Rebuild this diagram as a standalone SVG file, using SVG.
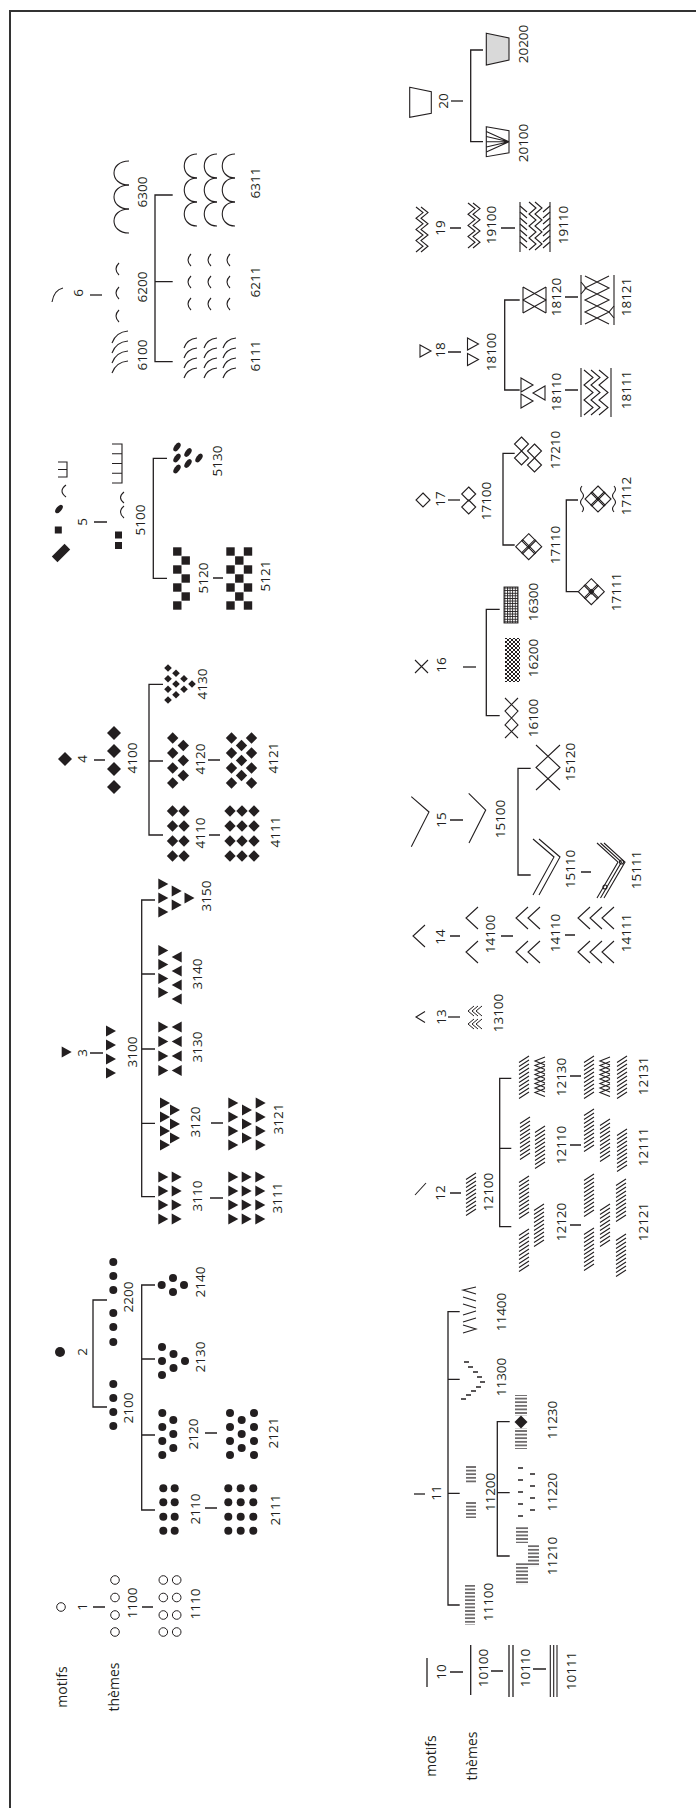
<svg xmlns="http://www.w3.org/2000/svg" width="696" height="1808" viewBox="0 0 696 1808">
<style>
.t{font-family:"Open Sans","Liberation Sans",sans-serif;font-size:13.5px;fill:#231f20;text-anchor:middle}
.w{font-size:14px}
.ln{stroke:#231f20;stroke-width:1.3;fill:none}
.th{stroke:#231f20;stroke-width:1.1;fill:none}
.f{fill:#231f20}
</style>
<defs>
<circle id="dt" r="4" fill="#231f20"/>
<circle id="oc" r="4.3" fill="none" stroke="#231f20" stroke-width="1"/>
<path id="tr" d="M-5,-5.5L5,0L-5,5.5Z" fill="#231f20"/>
<path id="tl" d="M5,-5.5L-5,0L5,5.5Z" fill="#231f20"/>
<path id="dmL" d="M0,-7L7,0L0,7L-7,0Z" fill="#231f20"/>
<path id="dm" d="M0,-5.7L5.7,0L0,5.7L-5.7,0Z" fill="#231f20"/>
<path id="dmS" d="M0,-3.8L3.8,0L0,3.8L-3.8,0Z" fill="#231f20"/>
<rect id="sq" x="-4.2" y="-4.2" width="8.4" height="8.4" fill="#231f20"/>
<path id="od" d="M0,-7L7,0L0,7L-7,0Z" fill="none" stroke="#231f20" stroke-width="1.1"/>
<g id="qf"><use href="#od" x="0" y="-6"/><use href="#od" x="-6" y="0"/><use href="#od" x="6" y="0"/><use href="#od" x="0" y="6"/></g>
<path id="ot" d="M-5.5,-6L5.5,0L-5.5,6Z" fill="none" stroke="#231f20" stroke-width="1.1"/>
<path id="hb" d="M0,6.5L10,0M0,10.5L10,4M0,14.5L10,8M0,18.5L10,12M0,22.5L10,16M0,26.5L10,20M0,30.5L10,24M0,34.5L10,28M0,38.5L10,32M0,42.5L10,36" stroke="#231f20" stroke-width="1.1" fill="none"/>
<path id="hh" d="M10,0L0,4L10,8M10,4.5L0,8.5L10,12.5M10,9L0,13L10,17M10,13.5L0,17.5L10,21.5M10,18L0,22L10,26M10,22.5L0,26.5L10,30.5M10,27L0,31L10,35M10,31.5L0,35.5L10,39.5" stroke="#231f20" stroke-width="1.1" fill="none"/>
<path id="cv" d="M12,-11L0,0L12,11" stroke="#231f20" stroke-width="1.1" fill="none"/>
<path id="cvs" d="M6,-5L0,0L6,5" stroke="#231f20" stroke-width="1" fill="none"/>
<path id="ar" d="M16,0Q4,1 0,12" stroke="#231f20" stroke-width="1.1" fill="none"/>
<path id="ar2" d="M13,0Q3,1 0,10" stroke="#231f20" stroke-width="1.1" fill="none"/>
<path id="ap" d="M6,0Q0,6 6,12" stroke="#231f20" stroke-width="1.1" fill="none"/>
<path id="ach" d="M16,0C-4,0 -4,24 16,24" stroke="#231f20" stroke-width="1.1" fill="none"/>
<path id="ach2" d="M14,0C-3,0 -3,24 14,24" stroke="#231f20" stroke-width="1.1" fill="none"/>
<pattern id="hs" patternUnits="userSpaceOnUse" width="20" height="3.6"><path d="M0,1.8H20" stroke="#231f20" stroke-width="1.2"/></pattern>
<pattern id="xh" patternUnits="userSpaceOnUse" width="4" height="4"><path d="M0,0L4,4M4,0L0,4" stroke="#231f20" stroke-width="1"/></pattern>
<pattern id="gr" patternUnits="userSpaceOnUse" width="2.6" height="2.6"><path d="M0,0.5H2.6M0.5,0V2.6" stroke="#231f20" stroke-width="0.9"/></pattern>
</defs>
<rect width="696" height="1808" fill="#fff"/>
<path d="M10,1808V11H696" stroke="#333" stroke-width="2" fill="none"/>

<g id="connectors" class="ln">
<path d="M93,1607H105M142,1607H153"/>
<path d="M205,1508H217M205,1433H217"/>
<path d="M107,1300H93V1407H107"/>
<path d="M155,1285H141.7V1510H155M141.7,1359H155M141.7,1435H155"/>
<path d="M90,1053H103M210,1198H223M211,1123H223"/>
<path d="M155,900H141.7V1196.7H155M141.7,974H155M141.7,1049H155M141.7,1123.3H155"/>
<path d="M94,760H105M209,835H220M208,760H220"/>
<path d="M163,684.3H149V835H163M149,761H163"/>
<path d="M94,522H107M213,578H223"/>
<path d="M167,458.3H153.3V578.3H167"/>
<path d="M90,295H102"/>
<path d="M172.7,195H155V361.7H172.7M155,281.7H172.7"/>
<path d="M450,1672H463M491,1671H503M533,1669H546"/>
<path d="M459.7,1311.7H448V1605H459.7M448,1379.3H459.7M448,1493.3H459.7"/>
<path d="M509.7,1421.7H497.3V1556H509.7M497.3,1492.7H509.7"/>
<path d="M450,1193H461M570,1225H581M570,1145H581M570,1076H581"/>
<path d="M511.3,1078.3H499.7V1226.7H511.3M499.7,1148.3H511.3"/>
<path d="M448,1017H460"/>
<path d="M450,936H460M501,936H513M565,935H575"/>
<path d="M450,820H463M581,872H591"/>
<path d="M530.7,768.3H518V875H530.7"/>
<path d="M463,667H476"/>
<path d="M499.7,609.3H486.3V715.7H499.7"/>
<path d="M448,500H460"/>
<path d="M514.7,453.3H503V545H514.7"/>
<path d="M578,500H566.3V591.7H578"/>
<path d="M448,352H461M565,390H578M565,297H578"/>
<path d="M519.7,300H504.7V390H519.7"/>
<path d="M450,228H461M501,228H515"/>
<path d="M451,101H463"/>
<path d="M483,50H470.7V141.7H483"/>
</g>

<g id="rowlabels">
<text class="t w" transform="translate(66.7,1687) rotate(-90)">motifs</text>
<text class="t w" transform="translate(119.3,1687) rotate(-90)">thèmes</text>
<text class="t w" transform="translate(436.3,1756) rotate(-90)">motifs</text>
<text class="t w" transform="translate(477,1756) rotate(-90)">thèmes</text>
</g>

<g id="n1"><use href="#oc" x="61" y="1607"/><text class="t" transform="translate(87,1607) rotate(-90)">1</text></g>
<g id="n1100"><use href="#oc" x="115" y="1580"/><use href="#oc" x="115" y="1597.5"/><use href="#oc" x="115" y="1615"/><use href="#oc" x="115" y="1632"/><text class="t" transform="translate(136.7,1603) rotate(-90)">1100</text></g>
<g id="n1110"><use href="#oc" x="163.3" y="1580"/><use href="#oc" x="163.3" y="1597.5"/><use href="#oc" x="163.3" y="1615"/><use href="#oc" x="163.3" y="1632"/><use href="#oc" x="176.7" y="1580"/><use href="#oc" x="176.7" y="1597.5"/><use href="#oc" x="176.7" y="1615"/><use href="#oc" x="176.7" y="1632"/><text class="t" transform="translate(200,1604) rotate(-90)">1110</text></g>

<g id="n2"><circle cx="60" cy="1352" r="5" class="f"/><text class="t" transform="translate(87,1352) rotate(-90)">2</text></g>
<g id="n2100"><use href="#dt" x="113.3" y="1384"/><use href="#dt" x="113.3" y="1398"/><use href="#dt" x="113.3" y="1412"/><use href="#dt" x="113.3" y="1426"/><text class="t" transform="translate(133,1408) rotate(-90)">2100</text></g>
<g id="n2200"><use href="#dt" x="113.3" y="1262"/><use href="#dt" x="113.3" y="1276"/><use href="#dt" x="113.3" y="1290"/><use href="#dt" x="113.3" y="1313"/><use href="#dt" x="113.3" y="1327"/><use href="#dt" x="113.3" y="1342"/><text class="t" transform="translate(133,1297) rotate(-90)">2200</text></g>
<g id="n2110"><use href="#dt" x="163.3" y="1488.3"/><use href="#dt" x="163.3" y="1502.3"/><use href="#dt" x="163.3" y="1516.7"/><use href="#dt" x="163.3" y="1530.7"/><use href="#dt" x="174.7" y="1488.3"/><use href="#dt" x="174.7" y="1502.3"/><use href="#dt" x="174.7" y="1516.7"/><use href="#dt" x="174.7" y="1530.7"/><text class="t" transform="translate(200,1509) rotate(-90)">2110</text></g>
<g id="n2111"><use href="#dt" x="228.3" y="1488.3"/><use href="#dt" x="228.3" y="1502.3"/><use href="#dt" x="228.3" y="1516.7"/><use href="#dt" x="228.3" y="1530.7"/><use href="#dt" x="240.7" y="1488.3"/><use href="#dt" x="240.7" y="1502.3"/><use href="#dt" x="240.7" y="1516.7"/><use href="#dt" x="240.7" y="1530.7"/><use href="#dt" x="253.3" y="1488.3"/><use href="#dt" x="253.3" y="1502.3"/><use href="#dt" x="253.3" y="1516.7"/><use href="#dt" x="253.3" y="1530.7"/><text class="t" transform="translate(280,1510) rotate(-90)">2111</text></g>
<g id="n2120"><use href="#dt" x="162.3" y="1413"/><use href="#dt" x="162.3" y="1427"/><use href="#dt" x="162.3" y="1441"/><use href="#dt" x="162.3" y="1455"/><use href="#dt" x="173.3" y="1420"/><use href="#dt" x="173.3" y="1434"/><use href="#dt" x="173.3" y="1448"/><text class="t" transform="translate(198,1434) rotate(-90)">2120</text></g>
<g id="n2121"><use href="#dt" x="230" y="1413"/><use href="#dt" x="230" y="1427"/><use href="#dt" x="230" y="1441"/><use href="#dt" x="230" y="1455"/><use href="#dt" x="241.7" y="1420"/><use href="#dt" x="241.7" y="1434"/><use href="#dt" x="241.7" y="1448"/><use href="#dt" x="254" y="1413"/><use href="#dt" x="254" y="1427"/><use href="#dt" x="254" y="1441"/><use href="#dt" x="254" y="1455"/><text class="t" transform="translate(278,1433) rotate(-90)">2121</text></g>
<g id="n2130"><use href="#dt" x="162" y="1347"/><use href="#dt" x="162" y="1361"/><use href="#dt" x="162" y="1375"/><use href="#dt" x="173.5" y="1354"/><use href="#dt" x="173.5" y="1368"/><use href="#dt" x="185" y="1361"/><text class="t" transform="translate(205,1357) rotate(-90)">2130</text></g>
<g id="n2140"><use href="#dt" x="161.7" y="1285"/><use href="#dt" x="173" y="1278"/><use href="#dt" x="173" y="1292"/><use href="#dt" x="184" y="1285"/><text class="t" transform="translate(205,1282) rotate(-90)">2140</text></g>

<g id="n3"><use href="#tr" x="66.7" y="1052"/><text class="t" transform="translate(87,1053) rotate(-90)">3</text></g>
<g id="n3100"><use href="#tr" x="111" y="1031"/><use href="#tr" x="111" y="1045"/><use href="#tr" x="111" y="1059"/><use href="#tr" x="111" y="1073"/><text class="t" transform="translate(136.7,1052) rotate(-90)">3100</text></g>
<g id="n3110"><use href="#tr" x="163.3" y="1177"/><use href="#tr" x="163.3" y="1191"/><use href="#tr" x="163.3" y="1205"/><use href="#tr" x="163.3" y="1219"/><use href="#tr" x="176.7" y="1177"/><use href="#tr" x="176.7" y="1191"/><use href="#tr" x="176.7" y="1205"/><use href="#tr" x="176.7" y="1219"/><text class="t" transform="translate(202,1196) rotate(-90)">3110</text></g>
<g id="n3111"><use href="#tr" x="233.3" y="1177"/><use href="#tr" x="233.3" y="1191"/><use href="#tr" x="233.3" y="1205"/><use href="#tr" x="233.3" y="1219"/><use href="#tr" x="246.7" y="1177"/><use href="#tr" x="246.7" y="1191"/><use href="#tr" x="246.7" y="1205"/><use href="#tr" x="246.7" y="1219"/><use href="#tr" x="260.3" y="1177"/><use href="#tr" x="260.3" y="1191"/><use href="#tr" x="260.3" y="1205"/><use href="#tr" x="260.3" y="1219"/><text class="t" transform="translate(281.7,1198) rotate(-90)">3111</text></g>
<g id="n3120"><use href="#tr" x="165" y="1103"/><use href="#tr" x="165" y="1117"/><use href="#tr" x="165" y="1131"/><use href="#tr" x="165" y="1145"/><use href="#tr" x="175" y="1110"/><use href="#tr" x="175" y="1124"/><use href="#tr" x="175" y="1138"/><text class="t" transform="translate(200,1122) rotate(-90)">3120</text></g>
<g id="n3121"><use href="#tr" x="233.3" y="1103"/><use href="#tr" x="233.3" y="1117"/><use href="#tr" x="233.3" y="1131"/><use href="#tr" x="233.3" y="1145"/><use href="#tr" x="247" y="1110"/><use href="#tr" x="247" y="1124"/><use href="#tr" x="247" y="1138"/><use href="#tr" x="260.7" y="1103"/><use href="#tr" x="260.7" y="1117"/><use href="#tr" x="260.7" y="1131"/><use href="#tr" x="260.7" y="1145"/><text class="t" transform="translate(283,1119) rotate(-90)">3121</text></g>
<g id="n3130"><use href="#tr" x="163.3" y="1027"/><use href="#tr" x="163.3" y="1041.5"/><use href="#tr" x="163.3" y="1056"/><use href="#tr" x="163.3" y="1070.5"/><use href="#tl" x="176.7" y="1027"/><use href="#tl" x="176.7" y="1041.5"/><use href="#tl" x="176.7" y="1056"/><use href="#tl" x="176.7" y="1070.5"/><text class="t" transform="translate(201.7,1047) rotate(-90)">3130</text></g>
<g id="n3140"><use href="#tr" x="163.3" y="950.5"/><use href="#tr" x="163.3" y="964.5"/><use href="#tr" x="163.3" y="978.5"/><use href="#tr" x="163.3" y="992.5"/><use href="#tl" x="176.7" y="957"/><use href="#tl" x="176.7" y="971"/><use href="#tl" x="176.7" y="985"/><use href="#tl" x="176.7" y="999"/><text class="t" transform="translate(201.7,974) rotate(-90)">3140</text></g>
<g id="n3150"><use href="#tr" x="163.3" y="884"/><use href="#tr" x="163.3" y="898"/><use href="#tr" x="163.3" y="912"/><use href="#tr" x="176.7" y="891"/><use href="#tr" x="176.7" y="905"/><use href="#tr" x="189.5" y="898"/><text class="t" transform="translate(211,896) rotate(-90)">3150</text></g>

<g id="n4"><use href="#dmL" x="65" y="759"/><text class="t" transform="translate(86.7,759) rotate(-90)">4</text></g>
<g id="n4100"><use href="#dmL" x="114" y="733"/><use href="#dmL" x="114" y="751"/><use href="#dmL" x="114" y="769"/><use href="#dmL" x="114" y="787"/><text class="t" transform="translate(136.7,758) rotate(-90)">4100</text></g>
<g id="n4110"><use href="#dm" x="172.5" y="811"/><use href="#dm" x="172.5" y="826"/><use href="#dm" x="172.5" y="841"/><use href="#dm" x="172.5" y="856"/><use href="#dm" x="184" y="811"/><use href="#dm" x="184" y="826"/><use href="#dm" x="184" y="841"/><use href="#dm" x="184" y="856"/><text class="t" transform="translate(205,833) rotate(-90)">4110</text></g>
<g id="n4111"><use href="#dm" x="230" y="811"/><use href="#dm" x="230" y="826"/><use href="#dm" x="230" y="841"/><use href="#dm" x="230" y="856"/><use href="#dm" x="242" y="811"/><use href="#dm" x="242" y="826"/><use href="#dm" x="242" y="841"/><use href="#dm" x="242" y="856"/><use href="#dm" x="254" y="811"/><use href="#dm" x="254" y="826"/><use href="#dm" x="254" y="841"/><use href="#dm" x="254" y="856"/><text class="t" transform="translate(280,832) rotate(-90)">4111</text></g>
<g id="n4120"><use href="#dm" x="172.7" y="738"/><use href="#dm" x="172.7" y="753"/><use href="#dm" x="172.7" y="768"/><use href="#dm" x="172.7" y="783"/><use href="#dm" x="183.3" y="745.5"/><use href="#dm" x="183.3" y="760.5"/><use href="#dm" x="183.3" y="775.5"/><text class="t" transform="translate(205,759) rotate(-90)">4120</text></g>
<g id="n4121"><use href="#dm" x="231.5" y="738"/><use href="#dm" x="231.5" y="753"/><use href="#dm" x="231.5" y="768"/><use href="#dm" x="231.5" y="783"/><use href="#dm" x="241.5" y="745.5"/><use href="#dm" x="241.5" y="760.5"/><use href="#dm" x="241.5" y="775.5"/><use href="#dm" x="251.5" y="738"/><use href="#dm" x="251.5" y="753"/><use href="#dm" x="251.5" y="768"/><use href="#dm" x="251.5" y="783"/><text class="t" transform="translate(278,758) rotate(-90)">4121</text></g>
<g id="n4130"><use href="#dmS" x="168" y="668"/><use href="#dmS" x="168" y="678.7"/><use href="#dmS" x="168" y="689.3"/><use href="#dmS" x="168" y="700"/><use href="#dmS" x="176" y="673.3"/><use href="#dmS" x="176" y="684"/><use href="#dmS" x="176" y="694.7"/><use href="#dmS" x="184" y="678.7"/><use href="#dmS" x="184" y="689.3"/><use href="#dmS" x="192" y="684"/><text class="t" transform="translate(206.7,684) rotate(-90)">4130</text></g>

<g id="n5">
<rect x="-9" y="-4" width="18" height="8" class="f" transform="translate(61,553) rotate(-45)"/>
<rect x="54.8" y="526.5" width="7" height="7" class="f"/>
<ellipse cx="0" cy="0" rx="5" ry="2.6" class="f" transform="translate(59,509) rotate(-50)"/>
<path d="M66,485Q58,491 66,497" class="th"/>
<path d="M58,462H67V477H58M58,469.5H67" class="th"/>
<text class="t" transform="translate(86.7,522) rotate(-90)">5</text>
</g>
<g id="n5100">
<rect x="115" y="531.5" width="7" height="7" class="f"/><rect x="115" y="542" width="7" height="7" class="f"/>
<path d="M124,492Q117,497.5 124,503M124,506Q117,512 124,518" class="th"/>
<path d="M112,444H122V483H112M112,453.75H122M112,463.5H122M112,473.25H122" class="th"/>
<text class="t" transform="translate(145,520) rotate(-90)">5100</text>
</g>
<g id="n5120"><use href="#sq" x="177.3" y="551.5"/><use href="#sq" x="177.3" y="569.5"/><use href="#sq" x="177.3" y="587.5"/><use href="#sq" x="177.3" y="605.5"/><use href="#sq" x="185.7" y="560.5"/><use href="#sq" x="185.7" y="578.5"/><use href="#sq" x="185.7" y="596.5"/><text class="t" transform="translate(208,578) rotate(-90)">5120</text></g>
<g id="n5121"><use href="#sq" x="230.5" y="551.5"/><use href="#sq" x="230.5" y="569.5"/><use href="#sq" x="230.5" y="587.5"/><use href="#sq" x="230.5" y="605.5"/><use href="#sq" x="239.3" y="560.5"/><use href="#sq" x="239.3" y="578.5"/><use href="#sq" x="239.3" y="596.5"/><use href="#sq" x="248" y="551.5"/><use href="#sq" x="248" y="569.5"/><use href="#sq" x="248" y="587.5"/><use href="#sq" x="248" y="605.5"/><text class="t" transform="translate(270,576) rotate(-90)">5121</text></g>
<g id="n5130" class="f">
<ellipse rx="5" ry="2.7" transform="translate(177,447) rotate(-55)"/><ellipse rx="5" ry="2.7" transform="translate(177,458) rotate(-55)"/><ellipse rx="5" ry="2.7" transform="translate(177,469) rotate(-55)"/><ellipse rx="5" ry="2.7" transform="translate(188,452.5) rotate(-55)"/><ellipse rx="5" ry="2.7" transform="translate(188,463.5) rotate(-55)"/><ellipse rx="5" ry="2.7" transform="translate(199,458) rotate(-55)"/>
<text class="t" transform="translate(222,461) rotate(-90)">5130</text>
</g>

<g id="n6"><path d="M63,288Q54,290 52,302" class="th"/><text class="t" transform="translate(83.3,293) rotate(-90)">6</text></g>
<g id="n6100"><use href="#ar" x="112" y="331"/><use href="#ar" x="112" y="341"/><use href="#ar" x="112" y="351"/><use href="#ar" x="112" y="361"/><text class="t" transform="translate(146.7,355) rotate(-90)">6100</text></g>
<g id="n6200"><use href="#ap" x="113" y="263"/><use href="#ap" x="113" y="287"/><use href="#ap" x="113" y="310"/><text class="t" transform="translate(146.7,287) rotate(-90)">6200</text></g>
<g id="n6300"><use href="#ach" x="113" y="161"/><use href="#ach" x="113" y="185"/><use href="#ach" x="113" y="209"/><text class="t" transform="translate(146.7,192) rotate(-90)">6300</text></g>
<g id="n6111"><use href="#ar2" x="184" y="338"/><use href="#ar2" x="184" y="348"/><use href="#ar2" x="184" y="358"/><use href="#ar2" x="184" y="368"/><use href="#ar2" x="204" y="338"/><use href="#ar2" x="204" y="348"/><use href="#ar2" x="204" y="358"/><use href="#ar2" x="204" y="368"/><use href="#ar2" x="223" y="338"/><use href="#ar2" x="223" y="348"/><use href="#ar2" x="223" y="358"/><use href="#ar2" x="223" y="368"/><text class="t" transform="translate(260,356) rotate(-90)">6111</text></g>
<g id="n6211"><use href="#ap" x="185" y="254"/><use href="#ap" x="185" y="276"/><use href="#ap" x="185" y="298"/><use href="#ap" x="205" y="254"/><use href="#ap" x="205" y="276"/><use href="#ap" x="205" y="298"/><use href="#ap" x="224" y="254"/><use href="#ap" x="224" y="276"/><use href="#ap" x="224" y="298"/><text class="t" transform="translate(260,282) rotate(-90)">6211</text></g>
<g id="n6311"><use href="#ach2" x="183" y="154"/><use href="#ach2" x="183" y="178"/><use href="#ach2" x="183" y="202"/><use href="#ach2" x="203" y="154"/><use href="#ach2" x="203" y="178"/><use href="#ach2" x="203" y="202"/><use href="#ach2" x="221" y="154"/><use href="#ach2" x="221" y="178"/><use href="#ach2" x="221" y="202"/><text class="t" transform="translate(260,183) rotate(-90)">6311</text></g>

<g id="n10"><path d="M427,1658V1687" class="ln"/><text class="t" transform="translate(446,1672) rotate(-90)">10</text></g>
<g id="n10100"><path d="M470.7,1645V1695" class="ln"/><text class="t" transform="translate(488,1668) rotate(-90)">10100</text></g>
<g id="n10110"><path d="M509,1645V1697M513,1645V1697" class="ln"/><text class="t" transform="translate(530,1668) rotate(-90)">10110</text></g>
<g id="n10111"><path d="M550.3,1645V1697M553.7,1645V1697M557,1645V1697" class="th"/><text class="t" transform="translate(576,1671) rotate(-90)">10111</text></g>

<g id="n11"><path d="M414,1494H425" class="ln"/><text class="t" transform="translate(441,1493) rotate(-90)">11</text></g>
<g id="n11100"><rect x="465" y="1585" width="10" height="40" fill="url(#hs)"/><text class="t" transform="translate(493,1602) rotate(-90)">11100</text></g>
<g id="n11200"><rect x="466" y="1465" width="10" height="18" fill="url(#hs)"/><rect x="466" y="1502" width="10" height="16" fill="url(#hs)"/><text class="t" transform="translate(494.7,1492) rotate(-90)">11200</text></g>
<g id="n11210"><rect x="516" y="1563" width="12" height="22" fill="url(#hs)"/><rect x="528" y="1545" width="11" height="22" fill="url(#hs)"/><rect x="516" y="1527" width="12" height="16" fill="url(#hs)"/><text class="t" transform="translate(556.7,1556) rotate(-90)">11210</text></g>
<g id="n11220"><path d="M518,1468h5M518,1480h5M518,1492h5M518,1504h5M518,1516h5M530,1474h5M530,1486h5M530,1498h5M530,1510h5" class="ln"/><text class="t" transform="translate(556.7,1492) rotate(-90)">11220</text></g>
<g id="n11230"><rect x="515" y="1395" width="12" height="21" fill="url(#hs)"/><rect x="515" y="1428" width="12" height="21" fill="url(#hs)"/><path d="M521,1415.5L527.5,1422L521,1428.5L514.5,1422Z" class="f"/><text class="t" transform="translate(556.7,1420) rotate(-90)">11230</text></g>
<g id="n11300"><path d="M461,1399h5M466,1395h5M471,1391h5M476,1387h5M480,1382h5M477,1377h5M473,1372h5M468,1367h5M464,1362h5" class="ln"/><text class="t" transform="translate(506,1377) rotate(-90)">11300</text></g>
<g id="n11400"><path d="M463,1333L476,1329L463,1325M463,1322L476,1318M463,1315L476,1311M463,1304L476,1308M463,1297L476,1301M476,1294L463,1290L476,1287" class="th"/><text class="t" transform="translate(506,1312) rotate(-90)">11400</text></g>

<g id="n12"><path d="M415,1195L426,1183" class="th"/><text class="t" transform="translate(444.7,1193) rotate(-90)">12</text></g>
<g id="n12100"><use href="#hb" x="466" y="1173"/><text class="t" transform="translate(493,1192) rotate(-90)">12100</text></g>
<g id="n12120"><use href="#hb" x="519" y="1176"/><use href="#hb" x="519" y="1229"/><use href="#hb" x="534" y="1204"/><text class="t" transform="translate(566,1222) rotate(-90)">12120</text></g>
<g id="n12121"><use href="#hb" x="584" y="1174"/><use href="#hb" x="584" y="1228"/><use href="#hb" x="600" y="1204"/><use href="#hb" x="616" y="1179"/><use href="#hb" x="616" y="1234"/><text class="t" transform="translate(648,1222) rotate(-90)">12121</text></g>
<g id="n12110"><use href="#hb" x="520" y="1117"/><use href="#hb" x="535" y="1126"/><text class="t" transform="translate(566,1145) rotate(-90)">12110</text></g>
<g id="n12111"><use href="#hb" x="584" y="1109"/><use href="#hb" x="600" y="1119"/><use href="#hb" x="617" y="1129"/><text class="t" transform="translate(648,1147) rotate(-90)">12111</text></g>
<g id="n12130"><use href="#hb" x="519" y="1056"/><use href="#hh" x="535" y="1057"/><text class="t" transform="translate(566,1077) rotate(-90)">12130</text></g>
<g id="n12131"><use href="#hb" x="584" y="1056"/><use href="#hh" x="600" y="1057"/><use href="#hb" x="617" y="1056"/><text class="t" transform="translate(648,1076) rotate(-90)">12131</text></g>

<g id="n13"><path d="M425,1011.5L416,1017L425,1022.5" class="th"/><text class="t" transform="translate(446,1017) rotate(-90)">13</text></g>
<g id="n13100"><use href="#cvs" x="468" y="1011"/><use href="#cvs" x="472" y="1011"/><use href="#cvs" x="476" y="1011"/><use href="#cvs" x="468" y="1024"/><use href="#cvs" x="472" y="1024"/><use href="#cvs" x="476" y="1024"/><text class="t" transform="translate(503,1013) rotate(-90)">13100</text></g>

<g id="n14"><use href="#cv" x="413" y="936"/><text class="t" transform="translate(445,937) rotate(-90)">14</text></g>
<g id="n14100"><use href="#cv" x="466" y="918"/><use href="#cv" x="466" y="952"/><text class="t" transform="translate(495,934) rotate(-90)">14100</text></g>
<g id="n14110"><use href="#cv" x="516" y="918"/><use href="#cv" x="516" y="952"/><use href="#cv" x="528" y="918"/><use href="#cv" x="528" y="952"/><text class="t" transform="translate(560,933) rotate(-90)">14110</text></g>
<g id="n14111"><use href="#cv" x="578" y="918"/><use href="#cv" x="578" y="952"/><use href="#cv" x="590" y="918"/><use href="#cv" x="590" y="952"/><use href="#cv" x="602" y="918"/><use href="#cv" x="602" y="952"/><text class="t" transform="translate(631,933) rotate(-90)">14111</text></g>

<g id="n15"><path d="M411.3,796.7L429,812L411.3,846.7" class="th"/><text class="t" transform="translate(446,820) rotate(-90)">15</text></g>
<g id="n15100"><path d="M468.7,793.3L485.7,810L469,843" class="th"/><text class="t" transform="translate(504.7,819) rotate(-90)">15100</text></g>
<g id="n15110"><path d="M539,839L560,857L539,895M533,839L554,857L533,895" class="th"/><text class="t" transform="translate(575,869) rotate(-90)">15110</text></g>
<g id="n15111"><path d="M604,843L625,862L604,898M600.5,843L621.5,862L600.5,898M597,843L618,862L597,898" class="th"/><circle cx="621.5" cy="862" r="2" class="th"/><circle cx="605" cy="887" r="2" class="th"/><text class="t" transform="translate(641,870) rotate(-90)">15111</text></g>
<g id="n15120"><path d="M536,745L560,767.5L536,790M560,745L536,767.5L560,790" class="th"/><text class="t" transform="translate(575,762) rotate(-90)">15120</text></g>

<g id="n16"><path d="M415,660L428,673M415,673L428,660" class="th"/><text class="t" transform="translate(446,665) rotate(-90)">16</text></g>
<g id="n16100"><path d="M505,698L518,711L505,725L518,738M518,698L505,711L518,725L505,738" class="th"/><text class="t" transform="translate(538,718) rotate(-90)">16100</text></g>
<g id="n16200"><rect x="505" y="638" width="15" height="44" fill="url(#xh)"/><text class="t" transform="translate(538,658) rotate(-90)">16200</text></g>
<g id="n16300"><rect x="504" y="587" width="14" height="36" fill="url(#gr)" stroke="#231f20" stroke-width="0.9"/><text class="t" transform="translate(538,602) rotate(-90)">16300</text></g>

<g id="n17"><use href="#od" x="423" y="500"/><text class="t" transform="translate(445,499) rotate(-90)">17</text></g>
<g id="n17100"><use href="#od" x="468.7" y="494"/><use href="#od" x="468.7" y="507"/><text class="t" transform="translate(491,501) rotate(-90)">17100</text></g>
<g id="n17110"><use href="#qf" x="528.7" y="546.7"/><text class="t" transform="translate(560,545) rotate(-90)">17110</text></g>
<g id="n17111"><use href="#qf" x="591.3" y="591.7"/><path d="M591.3,588.7L594.3,591.7L591.3,594.7L588.3,591.7Z" class="f"/><text class="t" transform="translate(621,592) rotate(-90)">17111</text></g>
<g id="n17112"><use href="#qf" x="598" y="499"/><path d="M582,486q-3,3.25 0,6.5t0,6.5t0,6.5t0,6.5M614,486q3,3.25 0,6.5t0,6.5t0,6.5t0,6.5" class="th"/><text class="t" transform="translate(631,496) rotate(-90)">17112</text></g>
<g id="n17210"><use href="#od" x="521.5" y="444"/><use href="#od" x="534.5" y="451"/><use href="#od" x="521.5" y="458"/><use href="#od" x="534.5" y="465"/><text class="t" transform="translate(560,450) rotate(-90)">17210</text></g>

<g id="n18"><use href="#ot" x="425.5" y="351"/><text class="t" transform="translate(445,350) rotate(-90)">18</text></g>
<g id="n18100"><use href="#ot" x="473" y="344"/><use href="#ot" x="473" y="359.5"/><text class="t" transform="translate(496,352) rotate(-90)">18100</text></g>
<g id="n18110"><path d="M521,378V392L533,385ZM545,386V400L533,393ZM521,394V408L533,401Z" class="th"/><text class="t" transform="translate(561,392) rotate(-90)">18110</text></g>
<g id="n18111"><path d="M581,368V417M611,368V417" class="th"/><path d="M584,370L593,377.5L584,385L593,392.5L584,400L593,407.5L584,415M591,370L600,377.5L591,385L600,392.5L591,400L600,407.5L591,415M599,370L608,377.5L599,385L608,392.5L599,400L608,407.5L599,415" class="th"/><text class="t" transform="translate(631,390) rotate(-90)">18111</text></g>
<g id="n18120"><path d="M523,287V313M546,287V313M523,287L546,300L523,313M546,287L523,300L546,313" class="th"/><text class="t" transform="translate(561,297) rotate(-90)">18120</text></g>
<g id="n18121"><path d="M581,275V325M614,275V325" class="th"/><path d="M585,276L609,288L585,300L609,312L585,324M609,276L585,288L609,300L585,312L609,324M581,282L586,288L581,294M614,306L609,312L614,318" class="th"/><text class="t" transform="translate(631,297) rotate(-90)">18121</text></g>

<g id="n19"><path d="M416,207L423,212.6L416,218.2L423,223.8L416,229.4L423,235L416,240.6L423,246.2L416,252M421,207L428,212.6L421,218.2L428,223.8L421,229.4L428,235L421,240.6L428,246.2L421,252" class="th"/><text class="t" transform="translate(445,228) rotate(-90)">19</text></g>
<g id="n19100"><path d="M468,203L475,208.6L468,214.2L475,219.8L468,225.4L475,231L468,236.6L475,242.2L468,248M473,203L480,208.6L473,214.2L480,219.8L473,225.4L480,231L473,236.6L480,242.2L473,248" class="th"/><text class="t" transform="translate(496,225) rotate(-90)">19100</text></g>
<g id="n19110"><path d="M520,202V252M550,202V252" class="th"/><path d="M529,202L536,208L529,214L536,220L529,226L536,232L529,238L536,244L529,250M535,202L542,208L535,214L542,220L535,226L542,232L535,238L542,244L535,250" class="th"/><path d="M520,206L527,212M520,212L527,218M520,218L527,224M520,224L527,230M520,230L527,236M520,236L527,242M520,242L527,248M550,206L543,212M550,212L543,218M550,218L543,224M550,224L543,230M550,230L543,236M550,236L543,242M550,242L543,248" class="th"/><text class="t" transform="translate(568,225) rotate(-90)">19110</text></g>

<g id="n20"><path d="M409.7,87.3L431.3,91.7V113.3L409.7,117.3Z" class="th"/><text class="t" transform="translate(448,101) rotate(-90)">20</text></g>
<g id="n20100"><path d="M486.3,126.7L509,130.7V152.7L486.3,156.7Z" class="th"/><path d="M486.3,131.5L509,141.7M486.3,136.5L509,141.7M486.3,141.7L509,141.7M486.3,147L509,141.7M486.3,152L509,141.7" class="th"/><text class="t" transform="translate(528,143) rotate(-90)">20100</text></g>
<g id="n20200"><path d="M486.3,33.3L509,38V60L486.3,65Z" fill="#d9d9d9" stroke="#231f20" stroke-width="1.1"/><text class="t" transform="translate(528,44) rotate(-90)">20200</text></g>
</svg>
